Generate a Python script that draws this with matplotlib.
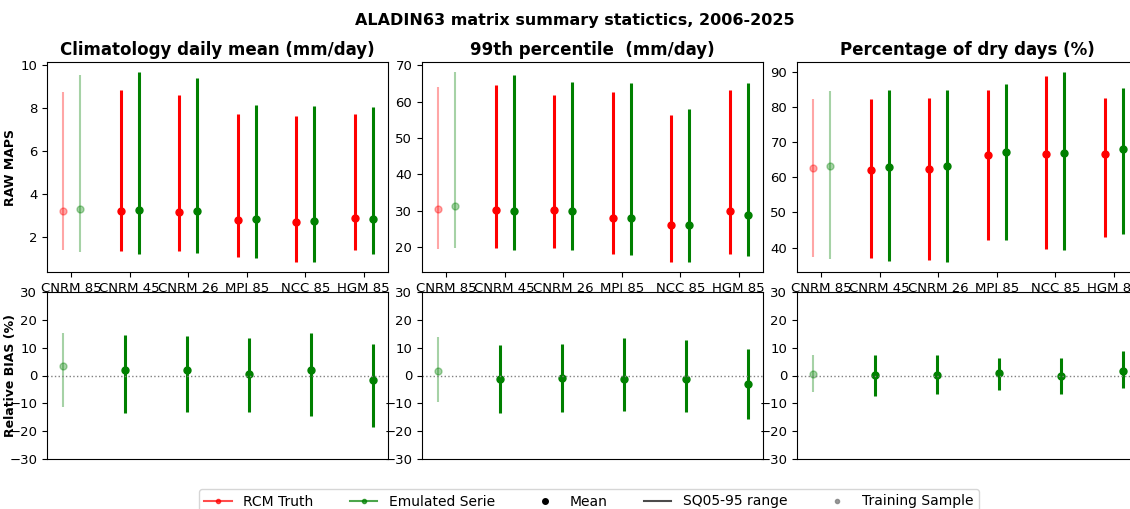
import matplotlib
matplotlib.use("Agg")
import matplotlib.pyplot as plt
from matplotlib.lines import Line2D
import numpy as np

models = ["CNRM 85", "CNRM 45", "CNRM 26", "MPI 85", "NCC 85", "HGM 85"]
titles = ["Climatology daily mean (mm/day)", "99th percentile  (mm/day)", "Percentage of dry days (%)"]

# RAW MAPS: [low (Q05), mean, high (Q95)] per model
clim_rcm_low = [1.40, 1.36, 1.36, 1.07, 0.85, 1.41]
clim_rcm_mean = [3.19, 3.19, 3.16, 2.79, 2.68, 2.87]
clim_rcm_high = [8.74, 8.85, 8.60, 7.72, 7.63, 7.72]
clim_emu_low = [1.30, 1.22, 1.26, 1.02, 0.81, 1.22]
clim_emu_mean = [3.29, 3.26, 3.22, 2.82, 2.74, 2.81]
clim_emu_high = [9.53, 9.69, 9.40, 8.14, 8.09, 8.05]

p99_rcm_low = [19.6, 19.8, 19.8, 18.2, 16.0, 18.2]
p99_rcm_mean = [30.5, 30.2, 30.1, 28.1, 26.2, 29.9]
p99_rcm_high = [64.1, 64.6, 61.9, 62.8, 56.4, 63.3]
p99_emu_low = [19.8, 19.3, 19.3, 17.8, 15.8, 17.6]
p99_emu_mean = [31.2, 29.9, 29.9, 28.1, 26.1, 28.8]
p99_emu_high = [68.3, 67.4, 65.4, 65.2, 58.0, 65.2]

dry_rcm_low = [37.4, 37.0, 36.6, 42.3, 39.7, 43.0]
dry_rcm_mean = [62.5, 62.1, 62.3, 66.4, 66.5, 66.5]
dry_rcm_high = [82.3, 82.1, 82.6, 84.9, 88.6, 82.5]
dry_emu_low = [36.8, 36.1, 35.8, 42.3, 39.3, 43.8]
dry_emu_mean = [63.3, 62.8, 63.1, 67.2, 67.0, 67.9]
dry_emu_high = [84.6, 84.9, 84.9, 86.6, 90.0, 85.2]

# Relative BIAS (%)
bias_clim_low = [-11.4, -13.3, -13.1, -13.1, -14.5, -18.4]
bias_clim_mean = [3.4, 2.0, 2.0, 0.7, 1.8, -1.5]
bias_clim_high = [15.1, 14.5, 14.1, 13.4, 15.2, 11.3]
bias_p99_low = [-9.6, -13.4, -13.1, -12.7, -13.1, -15.6]
bias_p99_mean = [1.5, -1.4, -0.9, -1.3, -1.1, -3.0]
bias_p99_high = [13.7, 10.9, 11.3, 13.4, 12.7, 9.5]
bias_dry_low = [-6.1, -7.3, -6.6, -5.2, -6.6, -4.5]
bias_dry_mean = [0.5, 0.3, 0.3, 0.9, 0.0, 1.5]
bias_dry_high = [7.3, 7.3, 7.3, 6.3, 6.3, 8.8]

raw = [
    ((clim_rcm_low, clim_rcm_mean, clim_rcm_high), (clim_emu_low, clim_emu_mean, clim_emu_high)),
    ((p99_rcm_low, p99_rcm_mean, p99_rcm_high), (p99_emu_low, p99_emu_mean, p99_emu_high)),
    ((dry_rcm_low, dry_rcm_mean, dry_rcm_high), (dry_emu_low, dry_emu_mean, dry_emu_high)),
]
bias = [
    (bias_clim_low, bias_clim_mean, bias_clim_high),
    (bias_p99_low, bias_p99_mean, bias_p99_high),
    (bias_dry_low, bias_dry_mean, bias_dry_high),
]

W, H = 1130, 509
fig = plt.figure(figsize=(W / 100, H / 100), dpi=100)

lefts = [47, 422, 797]
aw = 341
top_ax = (62, 272)
bot_ax = (292, 459)

def rect(x0, ys):
    return [x0 / W, 1 - ys[1] / H, aw / W, (ys[1] - ys[0]) / H]

def style(i):
    return (0.35, 1.5) if i == 0 else (1.0, 2.2)

off = 0.15
x = np.arange(len(models))
for k in range(3):
    ax = fig.add_axes(rect(lefts[k], top_ax))
    for (series, col, dx) in [(raw[k][0], "red", -off), (raw[k][1], "green", off)]:
        lo, me, hi = series
        for i in range(len(models)):
            a, lw = style(i)
            ax.vlines(x[i] + dx, lo[i], hi[i], color=col, lw=lw, alpha=a)
            ax.plot(x[i] + dx, me[i], "o", color=col, ms=5, alpha=a)
    ax.set_xticks(x)
    ax.set_xticklabels(models, fontsize=9.5)
    ax.tick_params(axis="y", labelsize=9.5)
    ax.set_title(titles[k], fontsize=12, fontweight="bold", pad=5)
    if k == 0:
        ax.set_ylabel("RAW MAPS", fontsize=9, fontweight="bold")
        ax.yaxis.set_label_coords(-0.088, 0.5)

    bx = fig.add_axes(rect(lefts[k], bot_ax))
    lo, me, hi = bias[k]
    for i in range(len(models)):
        a, lw = style(i)
        bx.vlines(x[i], lo[i], hi[i], color="green", lw=lw, alpha=a)
        bx.plot(x[i], me[i], "o", color="green", ms=5, alpha=a)
    bx.axhline(0, color="gray", ls=":", lw=1)
    bx.set_ylim(-30, 30)
    bx.set_yticks([-30, -20, -10, 0, 10, 20, 30])
    bx.set_xticks([])
    bx.tick_params(axis="y", labelsize=9.5)
    if k == 0:
        bx.set_ylabel("Relative BIAS (%)", fontsize=9, fontweight="bold")
        bx.yaxis.set_label_coords(-0.088, 0.5)

fig.text(575 / W, 1 - 20 / H, "ALADIN63 matrix summary statictics, 2006-2025",
         ha="center", va="center", fontsize=11.5, fontweight="bold")

handles = [
    Line2D([0], [0], color="red", marker="o", ms=3, alpha=0.7),
    Line2D([0], [0], color="green", marker="o", ms=3, alpha=0.7),
    Line2D([0], [0], color="black", marker="o", ms=4, ls=""),
    Line2D([0], [0], color="black", alpha=0.7),
    Line2D([0], [0], color="gray", marker="o", ms=3, ls="", alpha=0.8),
]
labels = ["RCM Truth", "Emulated Serie", "Mean", "SQ05-95 range", "Training Sample"]
fig.legend(handles, labels, loc="upper center", ncol=5, fontsize=10,
           bbox_to_anchor=(589 / W, 1 - 482 / H), bbox_transform=fig.transFigure,
           columnspacing=2.6)

fig.savefig("out.png", dpi=100)
